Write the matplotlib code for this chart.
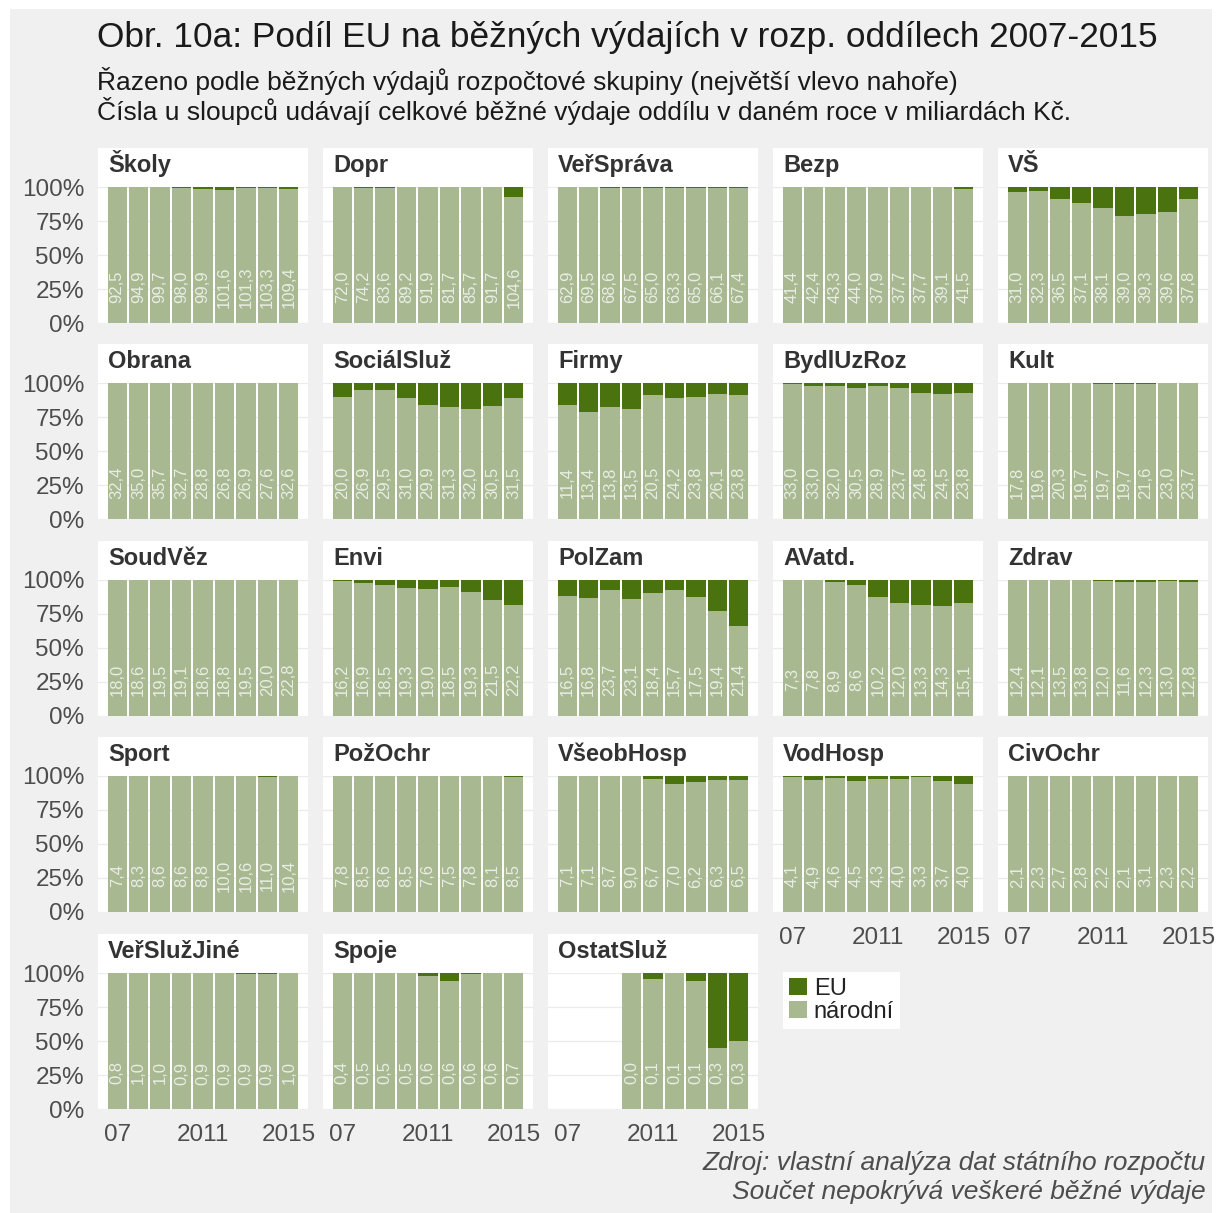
# -*- coding: utf-8 -*-
"""
EU share of current expenditure by budget chapter, 2007-2015
small multiples, stacked 100% bars
"""

import matplotlib
matplotlib.use("Agg")
import matplotlib.pyplot as plt
from matplotlib.patches import Rectangle, Patch

# --- Data
years = [2007, 2008, 2009, 2010, 2011, 2012, 2013, 2014, 2015]

names = ["Školy", "Dopr", "VeřSpráva", "Bezp", "VŠ",
         "Obrana", "SociálSluž", "Firmy", "BydlUzRoz", "Kult",
         "SoudVěz", "Envi", "PolZam", "AVatd.", "Zdrav",
         "Sport", "PožOchr", "VšeobHosp", "VodHosp", "CivOchr",
         "VeřSlužJiné", "Spoje", "OstatSluž"]

# total current expenditure [bn CZK]
totals = [
    [92.5, 94.9, 99.7, 98.0, 99.9, 101.6, 101.3, 103.3, 109.4],
    [72.0, 74.2, 83.6, 89.2, 91.9, 81.7, 85.7, 91.7, 104.6],
    [62.9, 69.5, 68.6, 67.5, 65.0, 63.3, 65.0, 66.1, 67.4],
    [41.4, 42.4, 43.3, 44.0, 37.9, 37.7, 37.7, 39.1, 41.5],
    [31.0, 32.3, 36.5, 37.1, 38.1, 39.0, 39.3, 39.6, 37.8],
    [32.4, 35.0, 35.7, 32.7, 28.8, 26.8, 26.9, 27.6, 32.6],
    [20.0, 26.9, 29.5, 31.0, 29.9, 31.3, 32.0, 30.5, 31.5],
    [11.4, 13.4, 13.8, 13.5, 20.5, 24.2, 23.8, 26.1, 23.8],
    [33.0, 33.0, 32.0, 30.5, 28.9, 23.7, 24.8, 24.5, 23.8],
    [17.8, 19.6, 20.3, 19.7, 19.7, 19.7, 21.6, 23.0, 23.7],
    [18.0, 18.6, 19.5, 19.1, 18.6, 18.8, 19.5, 20.0, 22.8],
    [16.2, 16.9, 18.5, 19.3, 19.0, 18.5, 19.3, 21.5, 22.2],
    [16.5, 16.8, 23.7, 23.1, 18.4, 15.7, 17.5, 19.4, 21.4],
    [7.3, 7.8, 8.9, 8.6, 10.2, 12.0, 13.3, 14.3, 15.1],
    [12.4, 12.1, 13.5, 13.8, 12.0, 11.6, 12.3, 13.0, 12.8],
    [7.4, 8.3, 8.6, 8.6, 8.8, 10.0, 10.6, 11.0, 10.4],
    [7.8, 8.5, 8.6, 8.5, 7.6, 7.5, 7.8, 8.1, 8.5],
    [7.1, 7.1, 8.7, 9.0, 6.7, 7.0, 6.2, 6.3, 6.5],
    [4.1, 4.9, 4.6, 4.5, 4.3, 4.0, 3.3, 3.7, 4.0],
    [2.1, 2.3, 2.7, 2.8, 2.2, 2.1, 3.1, 2.3, 2.2],
    [0.8, 1.0, 1.0, 0.9, 0.9, 0.9, 0.9, 0.9, 1.0],
    [0.4, 0.5, 0.5, 0.5, 0.6, 0.6, 0.6, 0.6, 0.7],
    [None, None, None, 0.0, 0.1, 0.1, 0.1, 0.3, 0.3],
]

# EU share of the total [%]
eu_share = [
    [0, 0, 0, 0.5, 1.5, 2, 0.5, 0.5, 1.2],
    [0, 0.5, 0.5, 0.3, 0, 0, 0, 0, 7.5],
    [0, 0.3, 1, 1, 1, 1, 1, 1, 1],
    [0, 0, 0, 0, 0, 0, 0, 0.3, 1.5],
    [3.5, 3, 8.5, 11.5, 15.5, 21, 20, 18.5, 8.5],
    [0, 0, 0, 0, 0, 0, 0, 0, 0],
    [10, 5.5, 5, 11, 16.5, 18, 19, 17, 11],
    [16, 21, 17.5, 19, 8.5, 11, 10.5, 8, 9],
    [1, 2, 2, 4, 2.5, 4, 7, 8, 7.5],
    [0, 0, 0.3, 0.3, 0.5, 0.5, 0.8, 0.3, 0.3],
    [0, 0, 0, 0, 0, 0, 0, 0, 0],
    [0.5, 2.5, 4, 6, 6.5, 5.5, 8.5, 14.5, 18.5],
    [12, 13.3, 7.7, 13.8, 9.6, 7.2, 12.8, 22.7, 34],
    [0, 0, 1.5, 3.5, 12.6, 17, 18.5, 18.8, 16.8],
    [0.3, 0, 0.2, 0.3, 0.5, 1.5, 1.5, 1, 1.5],
    [0, 0, 0, 0, 0, 0, 0, 0.5, 0],
    [0, 0, 0, 0, 0, 0, 0, 0, 0.8],
    [0, 0, 0, 0, 2.5, 6, 4.4, 2.7, 2.7],
    [0.7, 3, 1.2, 3.5, 2.2, 2, 1, 3.7, 5.7],
    [0, 0, 0, 0, 0, 0, 0, 0, 0],
    [0, 0, 0, 0, 0.2, 0.2, 0.5, 0.5, 0],
    [0, 0, 0, 0, 2, 5.7, 0.5, 0, 0],
    [None, None, None, 0, 4.2, 0.3, 6.2, 54.8, 49.9],
]

x_ticks = [2007, 2011, 2015]
x_ticklabels = ["07", "2011", "2015"]
y_ticks = [0, 0.25, 0.5, 0.75, 1.0]
y_ticklabels = ["0%", "25%", "50%", "75%", "100%"]

title = "Obr. 10a: Podíl EU na běžných výdajích v rozp. oddílech 2007-2015"
subtitle1 = "Řazeno podle běžných výdajů rozpočtové skupiny (největší vlevo nahoře)"
subtitle2 = "Čísla u sloupců udávají celkové běžné výdaje oddílu v daném roce v miliardách Kč."
caption1 = "Zdroj: vlastní analýza dat státního rozpočtu"
caption2 = "Součet nepokrývá veškeré běžné výdaje"

# --- Style
col_eu = "#4a720f"
col_nat = "#a8b891"
bg = "#f0f0f0"
txt = "#4d4d4d"
plt.rcParams["font.family"] = ["Liberation Sans", "DejaVu Sans"]

W, H = 1217, 1213
fig = plt.figure(figsize=(W / 100, H / 100), dpi=100, facecolor="white")

def fx(px):
    return px / W

def fy(py):
    return 1 - py / H

# grey plot background
fig.patches.append(Rectangle((fx(10), 0), fx(1212) - fx(10), fy(9),
                             transform=fig.transFigure, facecolor=bg,
                             edgecolor="none", zorder=-2))

# panel grid (pixel positions)
col_left = [98, 323, 548, 773, 998]
row_top = [187, 383, 580, 776, 973]
pw, ph = 210, 136
strip_h = 39
ncol = 5
n = len(names)

for i, name in enumerate(names):
    r, c = divmod(i, ncol)
    left, top = col_left[c], row_top[r]

    # white strip above the panel
    fig.patches.append(Rectangle((fx(left), fy(top)), pw / W, strip_h / H,
                                 transform=fig.transFigure, facecolor="white",
                                 edgecolor="none", zorder=-1))
    fig.text(fx(left + 10), fy(top - 15), name, fontsize=17,
             fontweight="bold", color="#333333", va="baseline", ha="left")

    ax = fig.add_axes([fx(left), fy(top + ph), pw / W, ph / H])
    ax.set_zorder(1)
    ax.set_facecolor("white")
    for s in ax.spines.values():
        s.set_visible(False)

    # only years that have data
    yrs = [y for y, t in zip(years, totals[i]) if t is not None]
    eu = [e / 100 for e in eu_share[i] if e is not None]
    tot = [t for t in totals[i] if t is not None]
    nat = [1 - e for e in eu]

    ax.bar(yrs, nat, width=0.9, color=col_nat, zorder=2)
    ax.bar(yrs, eu, width=0.9, bottom=nat, color=col_eu, zorder=2)

    # totals as rotated labels inside the bars
    for y, t in zip(yrs, tot):
        ax.text(y, 0.265, f"{t:.1f}".replace(".", ","), rotation=90,
                ha="center", va="center", color="white", alpha=0.75,
                fontsize=12, zorder=3)

    ax.set_xlim(2006.105, 2015.895)
    ax.set_ylim(0, 1.0)
    ax.set_yticks(y_ticks)
    ax.set_xticks(x_ticks)
    ax.grid(axis="y", color="#ebebeb", linewidth=0.9, zorder=0)
    ax.set_axisbelow(True)
    ax.tick_params(length=0, labelsize=17.5, labelcolor=txt, pad=11)
    ax.tick_params(axis="y", pad=10)

    if c == 0:
        ax.set_yticklabels(y_ticklabels)
    else:
        ax.set_yticklabels([])

    # x labels only on the lowest panel of each column
    if i + ncol >= n:
        ax.set_xticklabels(x_ticklabels)
    else:
        ax.set_xticklabels([])

# legend
handles = [Patch(facecolor=col_eu, label="EU"),
           Patch(facecolor=col_nat, label="národní")]
leg = fig.legend(handles=handles, loc="upper left",
                 bbox_to_anchor=(fx(783), fy(972)), fontsize=17,
                 frameon=True, fancybox=False, framealpha=1,
                 handlelength=0.75, handleheight=0.75, handletextpad=0.3,
                 labelspacing=0.05, borderpad=0.25, borderaxespad=0)
leg.get_frame().set_facecolor("white")
leg.get_frame().set_edgecolor("none")
for t in leg.get_texts():
    t.set_color("#222222")

# titles and caption
fig.text(fx(97), fy(38), title, fontsize=25.4, color="#1a1a1a", va="center")
fig.text(fx(97), fy(81), subtitle1, fontsize=19, color="#1a1a1a", va="center")
fig.text(fx(97), fy(111), subtitle2, fontsize=19, color="#1a1a1a", va="center")
fig.text(fx(1206), fy(1163), caption1, fontsize=19, style="italic",
         color=txt, ha="right", va="center")
fig.text(fx(1206), fy(1192), caption2, fontsize=19, style="italic",
         color=txt, ha="right", va="center")

fig.savefig("out.png", dpi=100, facecolor="white")
